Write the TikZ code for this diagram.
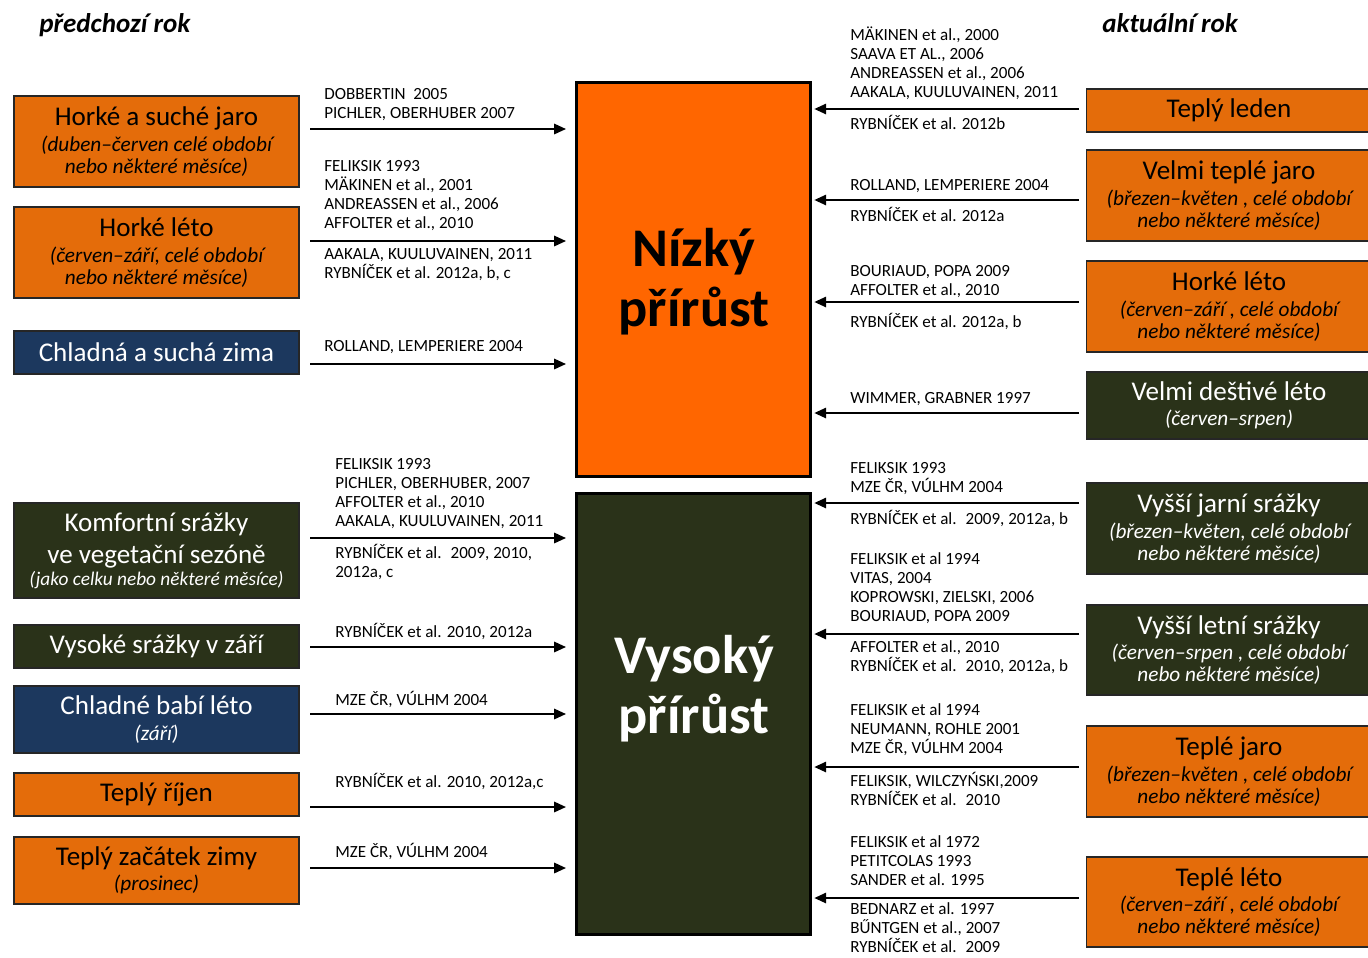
\documentclass[tikz,border=0pt]{standalone}
\usepackage{fontspec}
\setmainfont{Carlito}
\usetikzlibrary{arrows.meta}

\definecolor{boxorange}{HTML}{E46C0A}
\definecolor{loworange}{HTML}{FF6600}
\definecolor{boxnavy}{HTML}{1C385E}
\definecolor{boxgreen}{HTML}{2A3219}

\newcommand{\boxtitle}{\fontsize{15.4}{17}\selectfont\upshape}
\newcommand{\boxsmall}{\fontsize{11}{12.5}\selectfont\itshape}
\newcommand{\refsize}{\fontsize{9.7}{10.8}\selectfont\lineskiplimit=-6pt}

\begin{document}
\begin{tikzpicture}[x=0.02cm, y=-0.02cm,
    side/.style={draw=black!85, line width=0.9pt, minimum width=5.7cm, align=center, inner sep=1pt,
      font=\fontsize{12.1}{12.5}\selectfont\itshape},
    warm/.style={side, fill=boxorange, text=black},
    cold/.style={side, fill=boxnavy, text=white},
    wet/.style={side, fill=boxgreen, text=white},
    growth/.style={draw=black, line width=1.7pt, minimum width=4.7cm},
    growthtext/.style={align=center, font=\fontsize{31}{34}\selectfont\bfseries},
    refs/.style={font=\refsize, align=left, inner sep=0pt},
    yearhead/.style={font=\fontsize{15.4}{18}\selectfont\bfseries\itshape, anchor=base west, inner sep=0pt},
    arr/.style={line width=1.35pt, -{Triangle[length=6.8pt,width=5.8pt]}}
  ]
        \path[use as bounding box, clip] (0,0) rectangle (1368,957);

        % Headings
        \node[yearhead] (prev) at (39,32) {předchozí rok};
        \node[yearhead] (curr) at (1102,32) {aktuální rok};

        % Growth boxes
        \node[growth, fill=loworange, minimum height=7.9cm] (nizky) at (693.5,279.5) {};
        \node[growth, fill=boxgreen, minimum height=8.84cm] (vysoky) at (693.5,714) {};
        \node[growthtext] (nizkytext) at (694,282) {Nízký\\přírůst};
        \node[growthtext, text=white] (vysokytext) at (694,689) {Vysoký\\přírůst};

        % Previous year
        \node[warm, minimum height=1.82cm] (L1) at (156.5,141.5) {{\boxtitle Horké a suché jaro}\\[2pt](duben–červen celé období\\nebo některé měsíce)};
        \node[warm, minimum height=1.82cm] (L2) at (156.5,252.5) {{\boxtitle Horké léto}\\[2pt](červen–září, celé období\\nebo některé měsíce)};
        \node[cold, minimum height=0.86cm] (L3) at (156.5,352.5) {\boxtitle Chladná a suchá zima};
        \node[wet, minimum height=1.9cm] (L4) at (156.5,550.5) {{\boxtitle Komfortní srážky}\\[4.5pt]{\boxtitle ve vegetační sezóně}\\{\boxsmall (jako celku nebo některé měsíce)}};
        \node[wet, minimum height=0.86cm] (L5) at (156.5,646.5) {\boxtitle Vysoké srážky v září};
        \node[cold, minimum height=1.34cm] (L6) at (156.5,719.5) {{\boxtitle Chladné babí léto}\\[2pt](září)};
        \node[warm, minimum height=0.86cm] (L7) at (156.5,794.5) {\boxtitle Teplý říjen};
        \node[warm, minimum height=1.34cm] (L8) at (156.5,870.5) {{\boxtitle Teplý začátek zimy}\\[2pt](prosinec)};

        % Current year
        \node[warm, minimum height=0.86cm] (R1) at (1229,110.5) {\boxtitle Teplý leden};
        \node[warm, minimum height=1.82cm] (R2) at (1229,195.5) {{\boxtitle Velmi teplé jaro}\\[2pt](březen–květen , celé období\\nebo některé měsíce)};
        \node[warm, minimum height=1.82cm] (R3) at (1229,306.5) {{\boxtitle Horké léto}\\[2pt](červen–září , celé období\\nebo některé měsíce)};
        \node[wet, minimum height=1.34cm] (R4) at (1229,405.5) {{\boxtitle Velmi deštivé léto}\\[2pt](červen–srpen)};
        \node[wet, minimum height=1.82cm] (R5) at (1229,528.5) {{\boxtitle Vyšší jarní srážky}\\[2pt](březen–květen, celé období\\nebo některé měsíce)};
        \node[wet, minimum height=1.8cm] (R6) at (1229,650) {{\boxtitle Vyšší letní srážky}\\[2pt](červen–srpen , celé období\\nebo některé měsíce)};
        \node[warm, minimum height=1.82cm] (R7) at (1229,771.5) {{\boxtitle Teplé jaro}\\[2pt](březen–květen , celé období\\nebo některé měsíce)};
        \node[warm, minimum height=1.8cm] (R8) at (1229,902) {{\boxtitle Teplé léto}\\[2pt](červen–září , celé období\\nebo některé měsíce)};

        % Arrows into the growth boxes
        \coordinate (a1) at (310,129);
        \coordinate (a2) at (310,241);
        \coordinate (a3) at (310,364);
        \coordinate (a4) at (310,538);
        \coordinate (a5) at (310,647);
        \coordinate (a6) at (310,714);
        \coordinate (a7) at (310,807);
        \coordinate (a8) at (310,868);
        \draw[arr, shorten >=4.8pt] (a1) -- (a1 -| nizky.west);
        \draw[arr, shorten >=4.8pt] (a2) -- (a2 -| nizky.west);
        \draw[arr, shorten >=4.8pt] (a3) -- (a3 -| nizky.west);
        \draw[arr, shorten >=4.8pt] (a4) -- (a4 -| vysoky.west);
        \draw[arr, shorten >=4.8pt] (a5) -- (a5 -| vysoky.west);
        \draw[arr, shorten >=4.8pt] (a6) -- (a6 -| vysoky.west);
        \draw[arr, shorten >=4.8pt] (a7) -- (a7 -| vysoky.west);
        \draw[arr, shorten >=4.8pt] (a8) -- (a8 -| vysoky.west);

        \coordinate (b1) at (1079,109);
        \coordinate (b2) at (1079,200);
        \coordinate (b3) at (1079,302);
        \coordinate (b4) at (1079,413);
        \coordinate (b5) at (1079,503);
        \coordinate (b6) at (1079,634);
        \coordinate (b7) at (1079,767);
        \coordinate (b8) at (1079,898);
        \draw[arr, shorten >=1pt] (b1) -- (b1 -| nizky.east);
        \draw[arr, shorten >=1pt] (b2) -- (b2 -| nizky.east);
        \draw[arr, shorten >=1pt] (b3) -- (b3 -| nizky.east);
        \draw[arr, shorten >=1pt] (b4) -- (b4 -| nizky.east);
        \draw[arr, shorten >=1pt] (b5) -- (b5 -| vysoky.east);
        \draw[arr, shorten >=1pt] (b6) -- (b6 -| vysoky.east);
        \draw[arr, shorten >=1pt] (b7) -- (b7 -| vysoky.east);
        \draw[arr, shorten >=1pt] (b8) -- (b8 -| vysoky.east);

        % References, previous year
        \node[refs, anchor=south west] (a1up) at (324,124.7) {DOBBERTIN~ 2005\\PICHLER, OBERHUBER 2007\strut};
        \node[refs, anchor=south west] (a2up) at (324,234.7) {FELIKSIK 1993\\MÄKINEN et al., 2001\\ANDREASSEN et al., 2006\\AFFOLTER et al., 2010\strut};
        \node[refs, anchor=north west] (a2dn) at (324,245.7) {\strut AAKALA, KUULUVAINEN, 2011\\RYBNÍČEK et al. 2012a, b, c};
        \node[refs, anchor=south west] (a3up) at (324,357.7) {ROLLAND, LEMPERIERE 2004\strut};
        \node[refs, anchor=south west] (a4up) at (335,532.7) {FELIKSIK 1993\\PICHLER, OBERHUBER, 2007\\AFFOLTER et al., 2010\\AAKALA, KUULUVAINEN, 2011\strut};
        \node[refs, anchor=north west] (a4dn) at (335,543.7) {\strut RYBNÍČEK et al.~ 2009, 2010,\\2012a, c};
        \node[refs, anchor=south west] (a5up) at (335,643.7) {RYBNÍČEK et al. 2010, 2012a\strut};
        \node[refs, anchor=south west] (a6up) at (335,711.7) {MZE ČR, VÚLHM 2004\strut};
        \node[refs, anchor=south west] (a7up) at (335,793.7) {RYBNÍČEK et al. 2010, 2012a,c\strut};
        \node[refs, anchor=south west] (a8up) at (335,863.7) {MZE ČR, VÚLHM 2004\strut};

        % References, current year
        \node[refs, anchor=south west] (b1up) at (850,103.7) {MÄKINEN et al., 2000\\SAAVA ET AL., 2006\\ANDREASSEN et al., 2006\\AAKALA, KUULUVAINEN, 2011\strut};
        \node[refs, anchor=north west] (b1dn) at (850,114.7) {\strut RYBNÍČEK et al. 2012b};
        \node[refs, anchor=south west] (b2up) at (850,196.7) {ROLLAND, LEMPERIERE 2004\strut};
        \node[refs, anchor=north west] (b2dn) at (850,206.7) {\strut RYBNÍČEK et al. 2012a};
        \node[refs, anchor=south west] (b3up) at (850,301.7) {BOURIAUD, POPA 2009\\AFFOLTER et al., 2010\strut};
        \node[refs, anchor=north west] (b3dn) at (850,312.7) {\strut RYBNÍČEK et al. 2012a, b};
        \node[refs, anchor=south west] (b4up) at (850,409.7) {WIMMER, GRABNER 1997\strut};
        \node[refs, anchor=south west] (b5up) at (850,498.7) {FELIKSIK 1993\\MZE ČR, VÚLHM 2004\strut};
        \node[refs, anchor=north west] (b5dn) at (850,509.7) {\strut RYBNÍČEK et al.~ 2009, 2012a, b};
        \node[refs, anchor=south west] (b6up) at (850,627.7) {FELIKSIK et al 1994\\VITAS, 2004\\KOPROWSKI, ZIELSKI, 2006\\BOURIAUD, POPA 2009\strut};
        \node[refs, anchor=north west] (b6dn) at (850,638.7) {\strut AFFOLTER et al., 2010\\RYBNÍČEK et al.~ 2010, 2012a, b};
        \node[refs, anchor=south west] (b7up) at (850,759.7) {FELIKSIK et al 1994\\NEUMANN, ROHLE 2001\\MZE ČR, VÚLHM 2004\strut};
        \node[refs, anchor=north west] (b7dn) at (850,771.7) {\strut FELIKSIK, WILCZYŃSKI,2009\\RYBNÍČEK et al.~ 2010};
        \node[refs, anchor=south west] (b8up) at (850,891.7) {FELIKSIK et al 1972\\PETITCOLAS 1993\\SANDER et al. 1995\strut};
        \node[refs, anchor=north west] (b8dn) at (850,901.2) {\strut BEDNARZ et al. 1997\\BŰNTGEN et al., 2007\\RYBNÍČEK et al.~ 2009};
    \end{tikzpicture}
\end{document}
